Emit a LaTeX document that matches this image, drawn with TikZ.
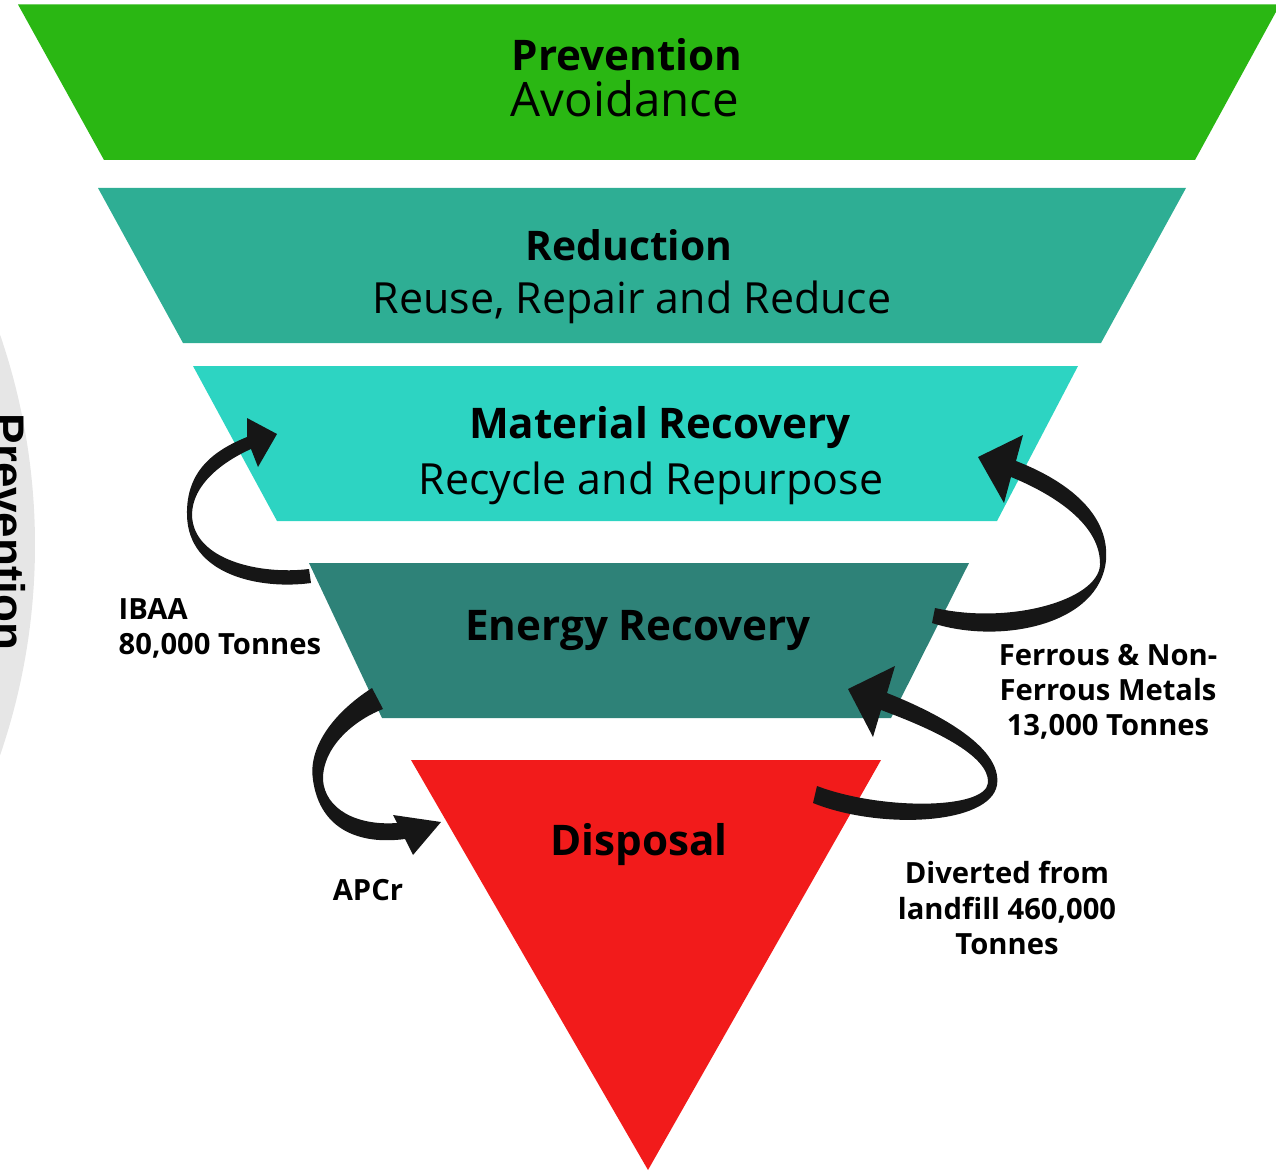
\documentclass[tikz,border=0pt]{standalone}
\usepackage{fontspec}
\setmainfont{Open Sans}
\newfontfamily\sidefont{Liberation Sans}
\definecolor{prevgreen}{HTML}{2AB713}
\definecolor{redteal}{HTML}{2EAE94}
\definecolor{matcyan}{HTML}{2DD4C2}
\definecolor{energyteal}{HTML}{2E8278}
\definecolor{dispred}{HTML}{F21B1B}
\definecolor{arrowblack}{HTML}{161616}
\definecolor{ringgrey}{HTML}{E6E6E6}
\tikzset{
  title/.style={font=\bfseries\fontsize{12}{14}\selectfont, anchor=base, inner sep=0pt},
  subtitle/.style={font=\fontsize{12.2}{15}\selectfont, anchor=base, inner sep=0pt},
  note/.style={font=\bfseries\fontsize{8.3}{10}\selectfont, align=center, inner sep=0pt},
  curl/.style={fill=arrowblack}
}

\begin{document}
\begin{tikzpicture}[x=0.01cm, y=-0.01cm]
\useasboundingbox (0,0) rectangle (1276,1173);
\clip (0,0) rectangle (1276,1173);
% grey ring on the left
\fill [ringgrey] (-612,545) circle (647);
\node[font=\sidefont\bfseries\fontsize{13}{15}\selectfont, rotate=-90, anchor=north, inner sep=0pt] (sidetext) at (26,532) {Prevention};
% the inverted pyramid
\foreach \col/\yt/\yb/\tl/\tr/\bl/\br in {prevgreen/4.5/160/18/1280/104/1195, redteal/188/343/98/1186/183/1101, matcyan/366/521/193/1078/277/997, energyteal/563/718/309/969/382/891}
  \fill [\col] (\tl,\yt) -- (\tr,\yt) -- (\br,\yb) -- (\bl,\yb) -- cycle;
\fill [dispred] (411,760) -- (881,760) -- (648,1170) -- cycle;
% curved arrows
\fill [curl] (311,583) .. controls (260,590) and (188,575) .. (187,515) .. controls (186,470) and (215,450) .. (247,437)
  -- (247,418) -- (277,434) -- (258,467) -- (251,449)
  .. controls (222,462) and (192,485) .. (192,515) .. controls (193,560) and (260,575) .. (309,569) -- cycle;
\fill [curl] (372,688) .. controls (330,715) and (308,750) .. (313,780) .. controls (320,830) and (360,845) .. (405,839)
  -- (413,855) -- (441,822) -- (393,815) -- (397,823)
  .. controls (355,826) and (325,808) .. (323,780) .. controls (322,750) and (350,722) .. (383,709) -- cycle;
\fill [curl] (932,623) .. controls (1000,645) and (1100,625) .. (1106,560) .. controls (1110,510) and (1060,478) .. (1016,461)
  -- (1023,435) -- (978,457) -- (1004,503) -- (1011,477)
  .. controls (1055,495) and (1101,525) .. (1100,565) .. controls (1098,600) and (1010,625) .. (935,608) -- cycle;
\fill [curl] (813,803) .. controls (880,830) and (990,825) .. (997,785) .. controls (1003,745) and (930,710) .. (887,693)
  -- (895,666) -- (848,689) -- (873,737) -- (881,710)
  .. controls (930,728) and (990,755) .. (988,783) .. controls (985,810) and (880,810) .. (817,786) -- cycle;
% level texts
\node[title] (prevention) at (627,71) {Prevention};
\node[subtitle, font=\fontsize{13.5}{16}\selectfont] (avoidance) at (625,117) {Avoidance};
\node[title, font=\bfseries\fontsize{11.6}{14}\selectfont] (reduction) at (629,260) {Reduction};
\node[subtitle] (reuse) at (632,313) {Reuse, Repair and Reduce};
\node[title] (matrec) at (660,438) {Material Recovery};
\node[subtitle] (recycle) at (651,494) {Recycle and Repurpose};
\node[title] (energy) at (638,640) {Energy Recovery};
\node[title] (disposal) at (639,855) {Disposal};
% tonnages
\node[note, align=left, anchor=west] (ibaa) at (118,628) {IBAA\\80,000 Tonnes};
\node[note] (ferrous) at (1108,692) {Ferrous \& Non-\\Ferrous Metals\\13,000 Tonnes};
\node[note] (diverted) at (1007,908) {Diverted from\\landfill 460,000\\Tonnes};
\node[note, anchor=base] (apcr) at (368,900) {APCr};
\end{tikzpicture}
\end{document}
